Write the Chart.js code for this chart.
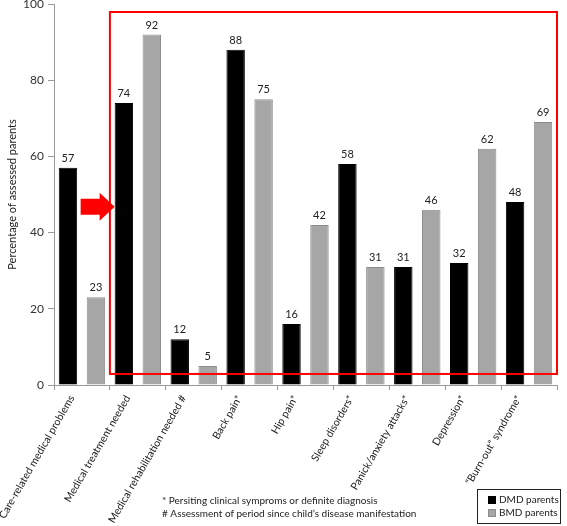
<!DOCTYPE html>
<html>
<head>
<meta charset="utf-8">
<script src="https://cdn.jsdelivr.net/npm/chart.js@4"></script>
<style>
  body { margin: 0; background: #fff; }
  #wrap { width: 567px; height: 526px; }
</style>
</head>
<body>
<div id="wrap"><canvas id="parentsChart" width="567" height="526"></canvas></div>
<script>
const categories = [
  'Care-related medical problems',
  'Medical treatment needed',
  'Medical rehabilitation needed #',
  'Back pain*',
  'Hip pain*',
  'Sleep disorders*',
  'Panick/anxiety attacks*',
  'Depression*',
  '\u201CBurn-out\u201D syndrome*',
];
const dmdValues = [57, 74, 12, 88, 16, 58, 31, 32, 48];
const bmdValues = [23, 92, 5, 75, 42, 31, 46, 62, 69];
const yTicks = [0, 20, 40, 60, 80, 100];
const footnotes = [
  '* Persiting clinical symproms or definite diagnosis',
  '# Assessment of period since child\u2019s disease manifestation',
];

const FONT = 'Lato, "Open Sans", sans-serif';

// value labels, red highlight box, arrow, footnotes and legend box
const overlay = {
  id: 'overlay',
  afterDatasetsDraw(chart) {
    const { ctx, scales: { x, y }, chartArea } = chart;
    ctx.save();

    ctx.font = '11px ' + FONT;
    ctx.fillStyle = '#222';
    ctx.textAlign = 'center';
    ctx.textBaseline = 'bottom';
    chart.data.datasets.forEach((ds, i) => {
      chart.getDatasetMeta(i).data.forEach((bar, j) => {
        ctx.fillText(ds.data[j], bar.x, bar.y - 4);
      });
    });

    // highlight box around categories 2..9
    const boxLeft = (x.getPixelForValue(0) + x.getPixelForValue(1)) / 2;
    const boxTop = y.getPixelForValue(97.9);
    const boxBottom = y.getPixelForValue(2.9);
    ctx.strokeStyle = '#ff0000';
    ctx.lineWidth = 2;
    ctx.strokeRect(boxLeft, boxTop, chartArea.right - boxLeft, boxBottom - boxTop);

    // arrow pointing at the treatment bar
    const tipX = chart.getDatasetMeta(0).data[1].x - chart.getDatasetMeta(0).data[1].width / 2;
    const tipY = y.getPixelForValue(46.8);
    ctx.fillStyle = '#ff0000';
    ctx.beginPath();
    ctx.moveTo(tipX - 34, tipY - 8);
    ctx.lineTo(tipX - 15, tipY - 8);
    ctx.lineTo(tipX - 15, tipY - 14);
    ctx.lineTo(tipX, tipY);
    ctx.lineTo(tipX - 15, tipY + 14);
    ctx.lineTo(tipX - 15, tipY + 8);
    ctx.lineTo(tipX - 34, tipY + 8);
    ctx.closePath();
    ctx.fill();
    ctx.restore();
  },
  afterDraw(chart) {
    const { ctx } = chart;
    ctx.save();
    ctx.font = '10px ' + FONT;
    ctx.fillStyle = '#222';
    ctx.textAlign = 'left';
    ctx.textBaseline = 'middle';
    footnotes.forEach((line, i) => ctx.fillText(line, 162, 501 + i * 13));

    // legend
    ctx.strokeStyle = '#222';
    ctx.lineWidth = 1;
    ctx.strokeRect(477.5, 489.5, 83, 34);
    ctx.font = '10px ' + FONT;
    chart.data.datasets.forEach((ds, i) => {
      const rowY = 500 + i * 13;
      ctx.fillStyle = ds.backgroundColor;
      ctx.fillRect(488, rowY - 4, 8, 8);
      ctx.strokeStyle = ds.borderColor;
      ctx.strokeRect(488.5, rowY - 3.5, 7, 7);
      ctx.fillStyle = '#222';
      ctx.fillText(ds.label, 499, rowY);
    });
    ctx.restore();
  },
};

const ctx = document.getElementById('parentsChart').getContext('2d');

new Chart(ctx, {
  type: 'bar',
  data: {
    labels: categories,
    datasets: [
      {
        label: 'DMD parents',
        data: dmdValues,
        backgroundColor: '#000000',
        borderColor: '#000000',
        borderWidth: 1,
      },
      {
        label: 'BMD parents',
        data: bmdValues,
        backgroundColor: '#a6a6a6',
        borderColor: '#8c8c8c',
        borderWidth: 1,
      },
    ],
  },
  options: {
    responsive: false,
    devicePixelRatio: 1,
    animation: false,
    layout: { autoPadding: false, padding: { top: 4, right: 10, left: 0, bottom: 0 } },
    datasets: {
      bar: { categoryPercentage: 1.0, barPercentage: 0.66 },
    },
    plugins: {
      legend: { display: false },
      tooltip: { enabled: false },
    },
    scales: {
      x: {
        grid: {
          display: true,
          drawOnChartArea: false,
          offset: true,
          tickLength: 5,
          color: '#999',
        },
        border: { color: '#999' },
        ticks: {
          autoSkip: false,
          minRotation: 60,
          maxRotation: 60,
          labelOffset: -10,
          color: '#1a1a1a',
          font: { family: FONT, size: 10.5 },
        },
        afterFit: scale => {
          scale.height = 141;
          scale.paddingLeft = 0;
          scale.paddingRight = 0;
        },
      },
      y: {
        min: 0,
        max: 100,
        afterBuildTicks: scale => {
          scale.ticks = yTicks.map(v => ({ value: v }));
        },
        grid: {
          display: true,
          drawOnChartArea: false,
          tickLength: 6,
          color: '#999',
        },
        border: { color: '#999' },
        ticks: {
          color: '#333',
          padding: 4,
          font: { family: FONT, size: 12 },
        },
        title: {
          display: true,
          text: 'Percentage of assessed parents',
          color: '#1a1a1a',
          font: { family: FONT, size: 11 },
          padding: { top: 6, bottom: 0 },
        },
        afterFit: scale => {
          scale.width = 54;
          scale.paddingTop = 0;
          scale.paddingBottom = 0;
        },
      },
    },
  },
  plugins: [overlay],
});
</script>
</body>
</html>
